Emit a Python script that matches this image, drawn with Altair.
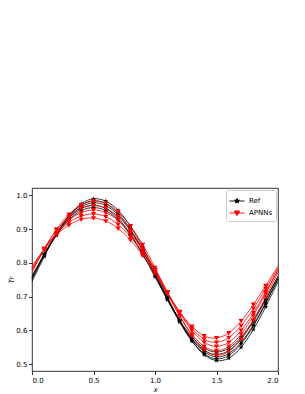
import altair as alt
import pandas as pd

x_vals = [0.0, 0.1, 0.2, 0.3, 0.4, 0.5, 0.6, 0.7, 0.8, 0.9, 1.0,
          1.1, 1.2, 1.3, 1.4, 1.5, 1.6, 1.7, 1.8, 1.9, 2.0]

ref_1 = [0.745, 0.819, 0.886, 0.939, 0.975, 0.990, 0.983, 0.956, 0.909, 0.847, 0.775,
         0.700, 0.629, 0.569, 0.528, 0.511, 0.518, 0.550, 0.603, 0.670, 0.745]
ref_2 = [0.753, 0.825, 0.888, 0.939, 0.971, 0.984, 0.976, 0.947, 0.900, 0.838, 0.767,
         0.694, 0.625, 0.569, 0.531, 0.516, 0.526, 0.560, 0.613, 0.680, 0.753]
ref_3 = [0.753, 0.823, 0.885, 0.934, 0.966, 0.978, 0.970, 0.942, 0.896, 0.836, 0.767,
         0.696, 0.629, 0.574, 0.537, 0.522, 0.532, 0.565, 0.617, 0.682, 0.753]
ref_4 = [0.760, 0.827, 0.886, 0.932, 0.961, 0.971, 0.961, 0.932, 0.886, 0.827, 0.760,
         0.691, 0.627, 0.575, 0.541, 0.529, 0.541, 0.575, 0.627, 0.691, 0.760]
ref_5 = [0.760, 0.825, 0.882, 0.927, 0.955, 0.964, 0.955, 0.927, 0.882, 0.825, 0.760,
         0.693, 0.631, 0.580, 0.548, 0.536, 0.548, 0.580, 0.631, 0.693, 0.760]

apnn_1 = [0.772, 0.841, 0.900, 0.944, 0.972, 0.983, 0.976, 0.951, 0.910, 0.854, 0.786,
          0.714, 0.643, 0.584, 0.543, 0.527, 0.538, 0.574, 0.630, 0.699, 0.772]
apnn_2 = [0.779, 0.843, 0.897, 0.937, 0.962, 0.970, 0.962, 0.937, 0.897, 0.843, 0.779,
          0.710, 0.644, 0.589, 0.553, 0.540, 0.553, 0.589, 0.644, 0.710, 0.779]
apnn_3 = [0.779, 0.839, 0.889, 0.927, 0.949, 0.957, 0.949, 0.927, 0.889, 0.839, 0.779,
          0.714, 0.652, 0.600, 0.565, 0.553, 0.565, 0.600, 0.652, 0.714, 0.779]
apnn_4 = [0.785, 0.841, 0.887, 0.920, 0.939, 0.945, 0.937, 0.914, 0.878, 0.830, 0.773,
          0.712, 0.654, 0.606, 0.574, 0.565, 0.579, 0.614, 0.665, 0.724, 0.785]
apnn_5 = [0.790, 0.841, 0.883, 0.912, 0.929, 0.933, 0.924, 0.902, 0.868, 0.822, 0.768,
          0.710, 0.656, 0.612, 0.584, 0.578, 0.593, 0.628, 0.677, 0.733, 0.790]

series_names = ["Ref", "APNNs"]
series_colors = ["black", "red"]
x_ticks = [0.0, 0.5, 1.0, 1.5, 2.0]
y_ticks = [0.5, 0.6, 0.7, 0.8, 0.9, 1.0]

rows = []
order = [("Ref", i, c) for i, c in enumerate([ref_1, ref_2, ref_3, ref_4, ref_5])] + \
        [("APNNs", i, c) for i, c in enumerate([apnn_1, apnn_2, apnn_3, apnn_4, apnn_5])]
for k, (name, i, curve) in enumerate(order):
    for j, (xv, yv) in enumerate(zip(x_vals, curve)):
        rows.append({"x": xv, "Tr": yv, "series": name, "curve": f"{name}{i}",
                     "ord": k, "marker": 0 < j < len(x_vals) - 1})
df = pd.DataFrame(rows)

star = "M0,-1L0.223,-0.307L0.951,-0.309L0.361,0.117L0.588,0.809L0,0.38L-0.588,0.809L-0.361,0.117L-0.951,-0.309L-0.223,-0.307Z"
tri = "M-1,-0.75L1,-0.75L0,1Z"
leg_star = "M-1,0L1,0M0,-0.35L0.078,-0.107L0.333,-0.108L0.126,0.041L0.206,0.283L0,0.133L-0.206,0.283L-0.126,0.041L-0.333,-0.108L-0.078,-0.107Z"
leg_tri = "M-1,0L1,0M-0.36,-0.27L0.36,-0.27L0,0.36Z"

xs = alt.X("x:Q", scale=alt.Scale(domain=[0, 2], nice=False),
           axis=alt.Axis(values=x_ticks, format=".1f", title="x", titleFontStyle="italic",
                         titleFontWeight="normal", titlePadding=2))
ys = alt.Y("Tr:Q", scale=alt.Scale(domain=[0.48, 1.022], nice=False, zero=False),
           axis=alt.Axis(values=y_ticks, format=".1f", title="Tr", titleFontStyle="italic",
                         titleFontWeight="normal", titlePadding=1, labelPadding=1.5))
color_scale = alt.Scale(domain=series_names, range=series_colors)

legend = alt.Legend(
    title=None, orient="top-right", offset=2, padding=3,
    strokeColor="#cccccc", fillColor="white", cornerRadius=2,
    labelFontSize=7, labelFont="DejaVu Sans", labelColor="black",
    symbolSize=225, labelOffset=4, rowPadding=-3,
    symbolType={"expr": f"datum.value === 'Ref' ? '{leg_star}' : '{leg_tri}'"},
    symbolFillColor={"expr": "datum.value === 'Ref' ? 'black' : 'red'"},
    symbolStrokeWidth=0.9,
)

lines = alt.Chart(df).mark_line(strokeWidth=0.8, interpolate="natural").encode(
    x=xs, y=ys,
    color=alt.Color("series:N", scale=color_scale, legend=legend),
    detail="curve:N",
    order=alt.Order("ord:Q"),
)

pts_ref = alt.Chart(df).transform_filter(
    "datum.marker && datum.series === 'Ref'"
).mark_point(filled=True, size=28, opacity=1, shape=star, color="black").encode(x=xs, y=ys)

pts_apnn = alt.Chart(df).transform_filter(
    "datum.marker && datum.series === 'APNNs'"
).mark_point(filled=True, size=26, opacity=1, shape=tri, color="red").encode(x=xs, y=ys)

chart = alt.layer(lines, pts_ref, pts_apnn).properties(
    width=246, height=183,
    padding={"left": 24, "top": 180, "right": 19, "bottom": 22},
    autosize=alt.AutoSizeParams(type="none"),
).configure_view(stroke="black", strokeWidth=0.8).configure_axis(
    grid=False, domain=False, tickColor="black", tickSize=3.5, tickWidth=0.8,
    labelFont="DejaVu Sans", labelFontSize=7, labelColor="black", labelPadding=2,
    titleFont="DejaVu Sans", titleFontSize=7, titleColor="black",
)

chart.save("out.html", embed_options={"renderer": "svg", "actions": False})
